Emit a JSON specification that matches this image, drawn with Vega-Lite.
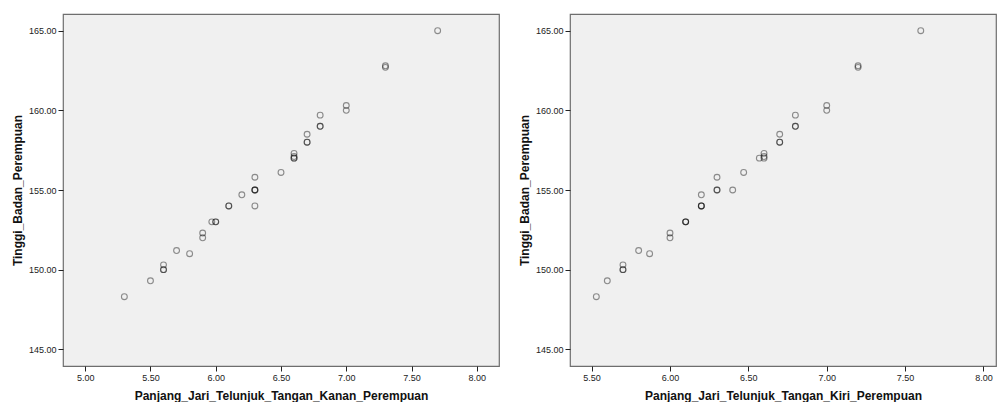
{
  "$schema": "https://vega.github.io/schema/vega-lite/v6.json",
  "background": "#ffffff",
  "padding": {"left": 10, "top": 13, "right": 0, "bottom": 0},
  "spacing": 17,
  "datasets": {
    "d": [
      {"tinggi": 148.3, "kanan": 5.3, "kiri": 5.53},
      {"tinggi": 149.3, "kanan": 5.5, "kiri": 5.6},
      {"tinggi": 150.3, "kanan": 5.6, "kiri": 5.7},
      {"tinggi": 150.0, "kanan": 5.6, "kiri": 5.7},
      {"tinggi": 150.0, "kanan": 5.6, "kiri": 5.7},
      {"tinggi": 151.2, "kanan": 5.7, "kiri": 5.8},
      {"tinggi": 151.0, "kanan": 5.8, "kiri": 5.87},
      {"tinggi": 152.3, "kanan": 5.9, "kiri": 6.0},
      {"tinggi": 152.0, "kanan": 5.9, "kiri": 6.0},
      {"tinggi": 153.0, "kanan": 5.97, "kiri": 6.1},
      {"tinggi": 153.0, "kanan": 6.0, "kiri": 6.1},
      {"tinggi": 153.0, "kanan": 6.0, "kiri": 6.1},
      {"tinggi": 154.0, "kanan": 6.1, "kiri": 6.2},
      {"tinggi": 154.0, "kanan": 6.1, "kiri": 6.2},
      {"tinggi": 154.0, "kanan": 6.3, "kiri": 6.2},
      {"tinggi": 154.7, "kanan": 6.2, "kiri": 6.2},
      {"tinggi": 155.8, "kanan": 6.3, "kiri": 6.3},
      {"tinggi": 155.0, "kanan": 6.3, "kiri": 6.3},
      {"tinggi": 155.0, "kanan": 6.3, "kiri": 6.3},
      {"tinggi": 155.0, "kanan": 6.3, "kiri": 6.4},
      {"tinggi": 156.1, "kanan": 6.5, "kiri": 6.47},
      {"tinggi": 157.3, "kanan": 6.6, "kiri": 6.6},
      {"tinggi": 157.1, "kanan": 6.6, "kiri": 6.6},
      {"tinggi": 157.0, "kanan": 6.6, "kiri": 6.57},
      {"tinggi": 157.0, "kanan": 6.6, "kiri": 6.6},
      {"tinggi": 158.5, "kanan": 6.7, "kiri": 6.7},
      {"tinggi": 158.0, "kanan": 6.7, "kiri": 6.7},
      {"tinggi": 158.0, "kanan": 6.7, "kiri": 6.7},
      {"tinggi": 159.7, "kanan": 6.8, "kiri": 6.8},
      {"tinggi": 159.0, "kanan": 6.8, "kiri": 6.8},
      {"tinggi": 159.0, "kanan": 6.8, "kiri": 6.8},
      {"tinggi": 160.3, "kanan": 7.0, "kiri": 7.0},
      {"tinggi": 160.0, "kanan": 7.0, "kiri": 7.0},
      {"tinggi": 162.8, "kanan": 7.3, "kiri": 7.2},
      {"tinggi": 162.7, "kanan": 7.3, "kiri": 7.2},
      {"tinggi": 165.0, "kanan": 7.7, "kiri": 7.6}
    ]
  },
  "config": {
    "view": {"stroke": "#6e6e6e", "strokeWidth": 1.2, "fill": "#f0f0f0"},
    "font": "Liberation Sans",
    "axis": {
      "grid": false,
      "domain": false,
      "tickColor": "#222222",
      "tickSize": 5,
      "tickWidth": 1,
      "labelFont": "Liberation Sans",
      "labelFontSize": 9,
      "labelColor": "#222222",
      "labelPadding": 2,
      "titleFont": "Liberation Sans",
      "titleFontSize": 12,
      "titleFontWeight": "bold",
      "titleColor": "#111111"
    }
  },
  "hconcat": [
    {
      "width": 436,
      "height": 352,
      "data": {"name": "d"},
      "mark": {"type": "point", "filled": false, "stroke": "#000000", "strokeOpacity": 0.6, "strokeWidth": 1.1, "size": 34},
      "encoding": {
        "x": {
          "field": "kanan", "type": "quantitative",
          "scale": {"domain": [4.83, 8.17], "nice": false, "zero": false},
          "axis": {"values": [5, 5.5, 6, 6.5, 7, 7.5, 8], "format": ".2f", "title": "Panjang_Jari_Telunjuk_Tangan_Kanan_Perempuan", "titlePadding": 8}
        },
        "y": {
          "field": "tinggi", "type": "quantitative",
          "scale": {"domain": [143.95, 166.05], "nice": false, "zero": false},
          "axis": {"values": [145, 150, 155, 160, 165], "format": ".2f", "title": "Tinggi_Badan_Perempuan", "titlePadding": 4}
        }
      }
    },
    {
      "width": 426,
      "height": 352,
      "data": {"name": "d"},
      "mark": {"type": "point", "filled": false, "stroke": "#000000", "strokeOpacity": 0.6, "strokeWidth": 1.1, "size": 34},
      "encoding": {
        "x": {
          "field": "kiri", "type": "quantitative",
          "scale": {"domain": [5.362, 8.08], "nice": false, "zero": false},
          "axis": {"values": [5.5, 6, 6.5, 7, 7.5, 8], "format": ".2f", "title": "Panjang_Jari_Telunjuk_Tangan_Kiri_Perempuan", "titlePadding": 8}
        },
        "y": {
          "field": "tinggi", "type": "quantitative",
          "scale": {"domain": [143.95, 166.05], "nice": false, "zero": false},
          "axis": {"values": [145, 150, 155, 160, 165], "format": ".2f", "title": "Tinggi_Badan_Perempuan", "titlePadding": 4}
        }
      }
    }
  ]
}
